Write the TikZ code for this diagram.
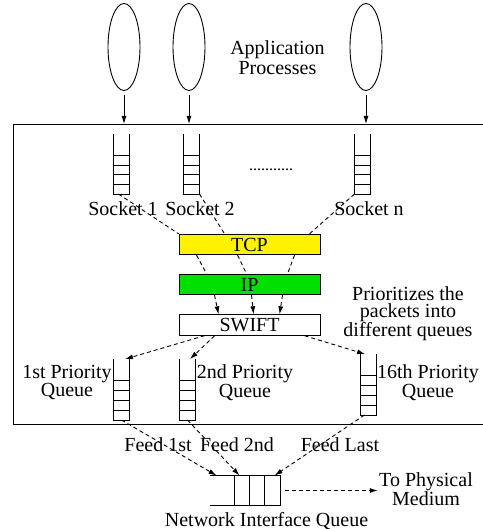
\documentclass[tikz,border=0pt]{standalone}
\usepackage{fontspec}
\setmainfont{Liberation Serif}
\newfontfamily\figfont{Liberation Serif}
\usetikzlibrary{arrows.meta,positioning,shapes.geometric}
\definecolor{ipgreen}{RGB}{0,224,0}

\begin{document}
\begin{tikzpicture}[x=1pt,y=-1pt,line width=0.9pt,font=\figfont\fontsize{20}{15}\selectfont,
    dsh/.style={dash pattern=on 4pt off 3pt},
    tip/.style={-{Latex[length=8pt,width=5pt]}},
    layer/.style={draw,minimum width=141pt,minimum height=20.5pt,inner sep=0pt}]
    \useasboundingbox (0,0) rectangle (482,529);
    \node[draw,anchor=north west,minimum width=472pt,minimum height=300pt,inner sep=0pt] (host) at (13,124) {};
    % application processes
    \foreach \x/\n in {124/p1,189/p2,366/pn}
    {
        \node[draw,ellipse,minimum width=32pt,minimum height=87pt,inner sep=0pt] (\n) at (\x,47) {};
        \draw[tip,shorten <=4.5pt] (\n.south) -- (\n.south |- host.north);
    }
    \node[align=center,font=\figfont\fontsize{20}{20}\selectfont] (apps) at (277.5,57.5) {Application\\Processes};
    % socket queues
    \foreach \x/\n/\lab/\lx in {121.5/sk1/Socket 1/123,191.5/sk2/Socket 2/200,362.5/skn/Socket n/369}
    {
        \node[minimum width=15pt,minimum height=59pt,inner sep=0pt,anchor=south] (\n) at (\x,194) {};
        \draw (\n.north west) -- (\n.south west) -- (\n.south east) -- (\n.north east);
        \foreach \d in {10,20,29,39} \draw (\n.south west) ++(0,-\d) -- ++(15,0);
        \node[anchor=base] (l\n) at (\lx,215) {\lab};
    }
    \node[anchor=base,font=\figfont\fontsize{16}{16}\selectfont] (dots) at (271,171) {...........};
    % protocol layers
    \node[layer,fill=yellow] (tcp) at (249.5,244.5) {TCP};
    \node[layer,fill=ipgreen] (ip) at (249.5,284.5) {IP};
    \node[layer] (swift) at (249.5,325) {SWIFT};
    \draw[dsh] ([xshift=-3pt]sk1.south) -- (tcp.north west);
    \draw[dsh] (sk2.south east) -- ([xshift=46pt]tcp.north west);
    \draw[dsh] (skn.south west) -- ([xshift=131pt]tcp.north west);
    \foreach \a/\b in {18/28,59/68,116/109}
        \draw[dsh] ([xshift=\a pt]tcp.south west) -- ([xshift=\b pt]ip.north west);
    \foreach \a/\b in {36/40,73/75,104/101}
        \draw[dsh,tip] ([xshift=\a pt]ip.south west) -- ([xshift=\b pt]swift.north west);
    \node[align=center] (prio) at (408,314) {Prioritizes the\\[1.5pt]packets into\\different queues};
    % priority queues
    \foreach \x/\y/\n in {121.5/420/pq1,187.5/420/pq2,368.5/415/pq16}
    {
        \node[minimum width=15pt,minimum height=60pt,inner sep=0pt,anchor=south] (\n) at (\x,\y) {};
        \draw (\n.north west) -- (\n.south west) -- (\n.south east) -- (\n.north east);
        \foreach \d in {10,20,30,40} \draw (\n.south west) ++(0,-\d) -- ++(15,0);
    }
    \node[align=center] (lpq1) at (67,382.5) {1st Priority\\Queue};
    \node[align=center] (lpq2) at (245,382.5) {2nd Priority\\Queue};
    \node[align=center] (lpq16) at (428,382.5) {16th Priority\\Queue};
    \draw[dsh,tip] ([xshift=26pt]swift.south west) -- ([xshift=3.5pt]pq1.north);
    \draw[dsh,tip] ([xshift=36pt]swift.south west) -- ([xshift=2.5pt]pq2.north);
    \draw[dsh,tip] ([xshift=126pt]swift.south west) -- ([xshift=-3.5pt]pq16.north);
    % network interface queue
    \node[minimum width=70pt,minimum height=29pt,inner sep=0pt] (niq) at (245,490.5) {};
    \draw (niq.north west) -- (niq.north east) -- (niq.south east) -- (niq.south west);
    \foreach \d in {25,40,55} \draw ([xshift=\d pt]niq.north west) -- ([xshift=\d pt]niq.south west);
    \node[anchor=base] (lniq) at (266.5,526) {Network Interface Queue};
    \node[anchor=base] (f1) at (158,451) {Feed 1st};
    \node[anchor=base] (f2) at (237,451) {Feed 2nd};
    \node[anchor=base] (fl) at (340,451) {Feed Last};
    \draw[dsh,tip] (pq1.south) -- ([xshift=7pt]niq.north west);
    \draw[dsh,tip] (pq2.south) -- ([xshift=30pt]niq.north west);
    \draw[dsh,tip] ([xshift=-4pt]pq16.south) -- ([xshift=65pt]niq.north west);
    \node[align=center,inner sep=1pt] (phys) at (426,489) {To Physical\\Medium};
    \draw[dsh,tip,shorten <=5pt] (niq.east) -- (niq.east -| phys.west);
\end{tikzpicture}
\end{document}
